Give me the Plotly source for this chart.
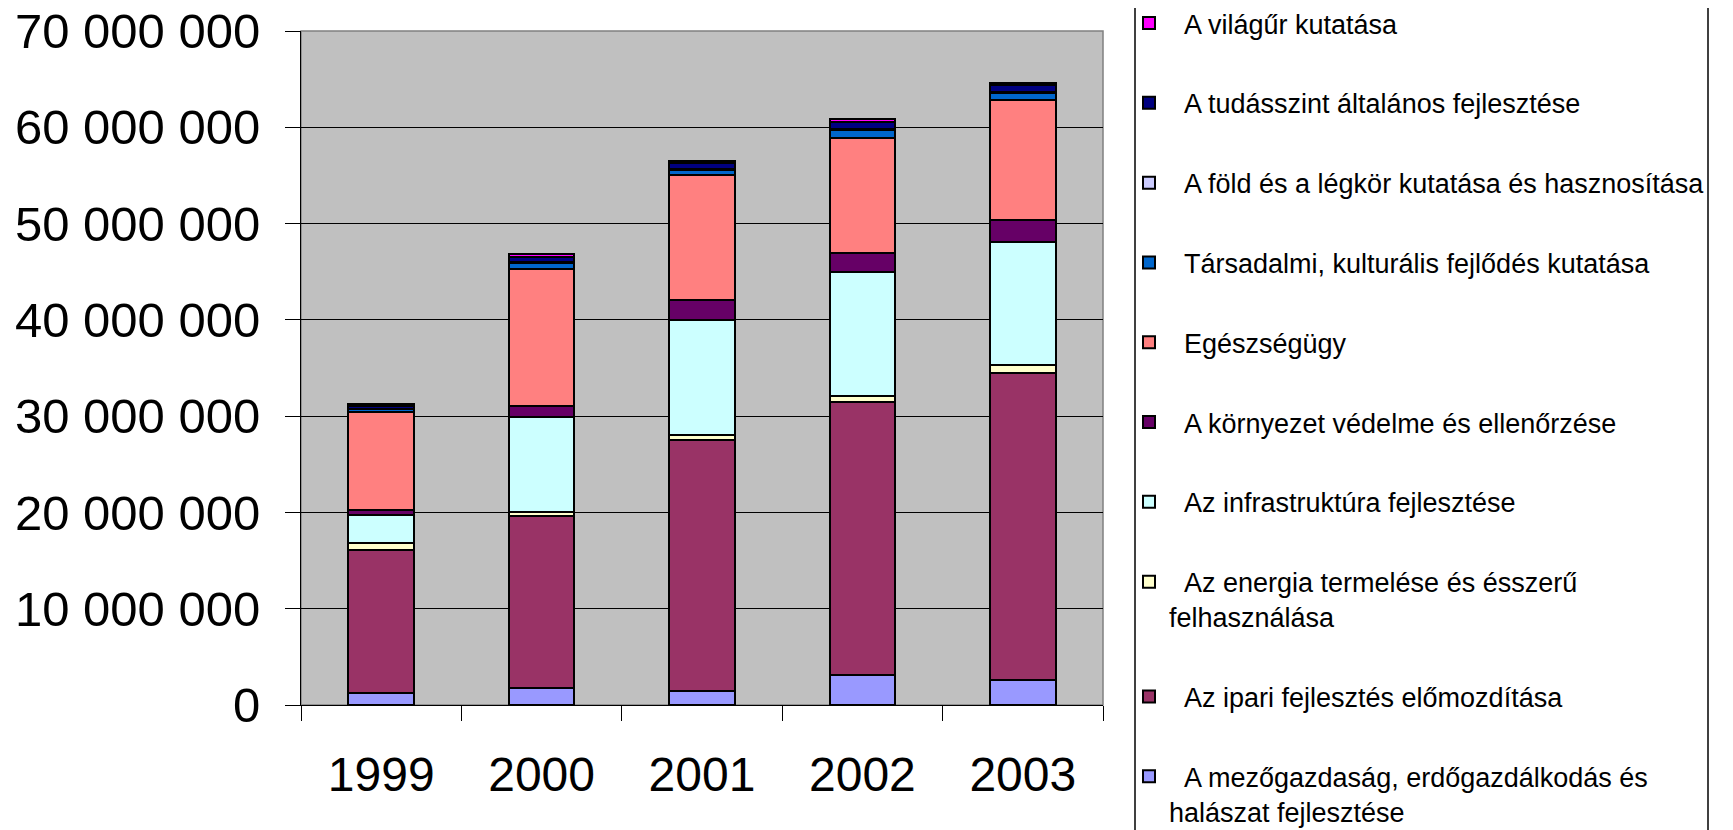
import plotly.graph_objects as go

years = ["1999", "2000", "2001", "2002", "2003"]

# values in HUF
mezogazdasag = [1200000, 1770000, 1450000, 3080000, 2560000]
ipari = [14850000, 17900000, 26050000, 28400000, 31870000]
energia = [800000, 350000, 500000, 650000, 870000]
infrastruktura = [2870000, 9900000, 12000000, 12800000, 12800000]
kornyezet = [520000, 1100000, 2100000, 2000000, 2250000]
egeszsegugy = [10200000, 14300000, 12900000, 12000000, 12500000]
tarsadalmi = [300000, 550000, 550000, 800000, 700000]
fold = [50000, 100000, 120000, 100000, 100000]
tudasszint = [300000, 600000, 600000, 750000, 700000]
vilagur = [200000, 250000, 250000, 300000, 200000]

series_names = [
    "A mezőgazdaság, erdőgazdálkodás és<br>halászat fejlesztése",
    "Az ipari fejlesztés előmozdítása",
    "Az energia termelése és ésszerű<br>felhasználása",
    "Az infrastruktúra fejlesztése",
    "A környezet védelme és ellenőrzése",
    "Egészségügy",
    "Társadalmi, kulturális fejlődés kutatása",
    "A föld és a légkör kutatása és hasznosítása",
    "A tudásszint általános fejlesztése",
    "A világűr kutatása",
]
series_values = [mezogazdasag, ipari, energia, infrastruktura, kornyezet,
                 egeszsegugy, tarsadalmi, fold, tudasszint, vilagur]
series_colors = ["#9999FF", "#993366", "#FFFFCC", "#CCFFFF", "#660066",
                 "#FF8080", "#0066CC", "#CCCCFF", "#000080", "#FF00FF"]

y_ticks = [0, 10000000, 20000000, 30000000, 40000000, 50000000, 60000000, 70000000]

W, H = 1733, 830
# plot area in figure pixels
L, T, R, B = 293, 23, 1095, 697
PW, PH = R - L, B - T

fig = go.Figure()
n = len(series_names)
for i, (name, vals, col) in enumerate(zip(series_names, series_values, series_colors)):
    fig.add_trace(go.Bar(
        x=years, y=vals, name="\u00a0\u00a0" + name,
        legendgroup=f"g{i}", legendrank=n - i,
        marker=dict(color=col, line=dict(color="black", width=2)),
    ))

fig.update_layout(
    width=W, height=H,
    barmode="stack", bargap=0.59,
    separators=", ",
    margin=dict(l=L, r=W - R, t=T, b=H - B, autoexpand=False),
    paper_bgcolor="white", plot_bgcolor="#C0C0C0",
    font=dict(family="Liberation Sans, Arial, sans-serif", color="black"),
    showlegend=True,
    legend=dict(
        xref="paper", yref="paper",
        x=(1121 - L) / PW, y=(B - (-9)) / PH,
        xanchor="left", yanchor="top",
        borderwidth=0, bgcolor="rgba(0,0,0,0)",
        font=dict(size=27, family="Liberation Sans, Arial, sans-serif"),
        valign="top", tracegroupgap=41.7, traceorder="grouped",
        itemwidth=30, maxheight=1200,
    ),
)
fig.update_yaxes(
    range=[0, 70000000], tickvals=y_ticks, tickformat=",d",
    showgrid=True, gridcolor="#000000", gridwidth=1,
    showline=True, linecolor="black", linewidth=1,
    ticks="outside", ticklen=15, tickcolor="black",
    tickfont=dict(size=49), ticklabelstandoff=15, zeroline=False,
    ticklabeloverflow="allow",
)
fig.update_xaxes(
    showline=True, linecolor="black", linewidth=1,
    ticks="outside", ticklen=15, tickcolor="black", tickson="boundaries",
    tickfont=dict(size=48), ticklabelstandoff=27,
)
# plot-area frame
fig.add_shape(type="rect", xref="paper", yref="paper", x0=0, x1=1, y0=0, y1=1,
              line=dict(color="#808080", width=1.5), layer="below")
# legend frame: left and right edges running past the figure's top and bottom
for fx in (1127, 1700):
    fig.add_shape(type="line", xref="paper", yref="paper",
                  x0=(fx - L) / PW, x1=(fx - L) / PW, y0=-0.3, y1=1.3,
                  line=dict(color="black", width=1.5), layer="above")

fig.write_html("out.html")
